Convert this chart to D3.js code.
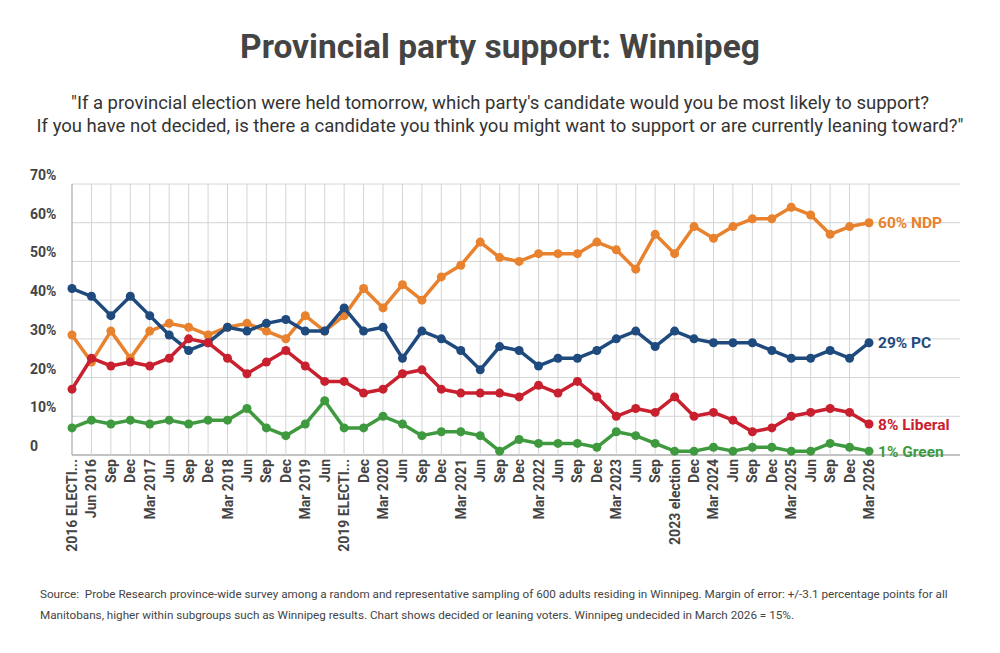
<!DOCTYPE html>
<html>
<head>
<meta charset="utf-8">
<script src="https://cdn.jsdelivr.net/npm/d3@7"></script>
<style>
  body { margin: 0; background: #fff; }
  svg { font-family: Roboto, "Noto Sans", sans-serif; }
</style>
</head>
<body>
<div id="chart"></div>
<script>
const periods = ["2016 ELECTI...", "Jun 2016", "Sep", "Dec", "Mar 2017", "Jun", "Sep", "Dec",
  "Mar 2018", "Jun", "Sep", "Dec", "Mar 2019", "Jun", "2019 ELECTI...", "Dec", "Mar 2020",
  "Jun", "Sep", "Dec", "Mar 2021", "Jun", "Sep", "Dec", "Mar 2022", "Jun", "Sep", "Dec",
  "Mar 2023", "Jun", "Sep", "2023 election", "Dec", "Mar 2024", "Jun", "Sep", "Dec",
  "Mar 2025", "Jun", "Sep", "Dec", "Mar 2026"];

const ndp = [31, 24, 32, 25, 32, 34, 33, 31, 33, 34, 32, 30, 36, 32, 36, 43, 38, 44, 40, 46,
  49, 55, 51, 50, 52, 52, 52, 55, 53, 48, 57, 52, 59, 56, 59, 61, 61, 64, 62, 57, 59, 60];
const pc = [43, 41, 36, 41, 36, 31, 27, 29, 33, 32, 34, 35, 32, 32, 38, 32, 33, 25, 32, 30,
  27, 22, 28, 27, 23, 25, 25, 27, 30, 32, 28, 32, 30, 29, 29, 29, 27, 25, 25, 27, 25, 29];
const liberal = [17, 25, 23, 24, 23, 25, 30, 29, 25, 21, 24, 27, 23, 19, 19, 16, 17, 21, 22, 17,
  16, 16, 16, 15, 18, 16, 19, 15, 10, 12, 11, 15, 10, 11, 9, 6, 7, 10, 11, 12, 11, 8];
const green = [7, 9, 8, 9, 8, 9, 8, 9, 9, 12, 7, 5, 8, 14, 7, 7, 10, 8, 5, 6,
  6, 5, 1, 4, 3, 3, 3, 2, 6, 5, 3, 1, 1, 2, 1, 2, 2, 1, 1, 3, 2, 1];

const yTicks = [0, 10, 20, 30, 40, 50, 60, 70];

const series = [
  { name: "NDP", values: ndp, color: "#e8822e" },
  { name: "PC", values: pc, color: "#1f4a7e" },
  { name: "Liberal", values: liberal, color: "#c8202f" },
  { name: "Green", values: green, color: "#3f9a3f" }
];

const width = 1000, height = 653;
const svg = d3.select("#chart").append("svg")
  .attr("width", width)
  .attr("height", height);

// title + question
svg.append("text")
  .attr("x", 500).attr("y", 58)
  .attr("text-anchor", "middle")
  .attr("font-size", 33.5).attr("font-weight", "bold")
  .attr("fill", "#444")
  .text("Provincial party support: Winnipeg");

const sub = [
  "\"If a provincial election were held tomorrow, which party's candidate would you be most likely to support?",
  "If you have not decided, is there a candidate you think you might want to support or are currently leaning toward?\""
];
svg.selectAll(".sub").data(sub).enter().append("text")
  .attr("x", 500).attr("y", (d, i) => 109 + i * 23)
  .attr("text-anchor", "middle")
  .attr("font-size", 18.5)
  .attr("fill", "#333")
  .text(d => d);

const x = d3.scalePoint().domain(d3.range(periods.length)).range([72, 869]);
const y = d3.scaleLinear().domain([0, 70]).range([455, 184]);
const plotRight = 960;

// grid
svg.append("g").selectAll("line").data(yTicks).enter().append("line")
  .attr("x1", 72).attr("x2", plotRight)
  .attr("y1", d => y(d)).attr("y2", d => y(d))
  .attr("stroke", d => d === 0 ? "#888" : "#d4d4d4")
  .attr("stroke-width", d => d === 0 ? 1.2 : 1);

svg.append("g").selectAll("line").data(d3.range(periods.length)).enter().append("line")
  .attr("x1", d => x(d)).attr("x2", d => x(d))
  .attr("y1", y(70)).attr("y2", y(0))
  .attr("stroke", d => d === 0 ? "#999" : "#d4d4d4")
  .attr("stroke-width", 1);

svg.append("g").selectAll("text").data(yTicks).enter().append("text")
  .attr("x", 30).attr("y", d => y(d) - 4)
  .attr("font-size", 14).attr("font-weight", "bold")
  .attr("fill", "#444")
  .text(d => d === 0 ? "0" : d + "%");

// x labels, rotated
svg.append("g").selectAll("text").data(periods).enter().append("text")
  .attr("transform", (d, i) => `translate(${x(i) + 5},459) rotate(-90)`)
  .attr("text-anchor", "end")
  .attr("font-size", 14).attr("font-weight", "bold")
  .attr("fill", "#444")
  .text(d => d);

// lines
const line = d3.line()
  .x((d, i) => x(i))
  .y(d => y(d));

series.forEach(s => {
  const g = svg.append("g");
  g.append("path")
    .datum(s.values)
    .attr("d", line)
    .attr("fill", "none")
    .attr("stroke", s.color)
    .attr("stroke-width", 3.5)
    .attr("stroke-linejoin", "round");
  g.selectAll("circle").data(s.values).enter().append("circle")
    .attr("cx", (d, i) => x(i))
    .attr("cy", d => y(d))
    .attr("r", 4.5)
    .attr("fill", s.color);
  const last = s.values[s.values.length - 1];
  g.append("text")
    .attr("x", x(periods.length - 1) + 9)
    .attr("y", y(last) + 5.5)
    .attr("font-size", 15.5).attr("font-weight", "bold")
    .attr("fill", s.color)
    .text(last + "% " + s.name);
});

// source
const src = [
  "Source:  Probe Research province-wide survey among a random and representative sampling of 600 adults residing in Winnipeg. Margin of error: +/-3.1 percentage points for all",
  "Manitobans, higher within subgroups such as Winnipeg results. Chart shows decided or leaning voters. Winnipeg undecided in March 2026 = 15%."
];
svg.selectAll(".src").data(src).enter().append("text")
  .attr("x", 40).attr("y", (d, i) => 598 + i * 21)
  .attr("font-size", 11.7)
  .attr("fill", "#444")
  .style("white-space", "pre")
  .text(d => d);
</script>
</body>
</html>
